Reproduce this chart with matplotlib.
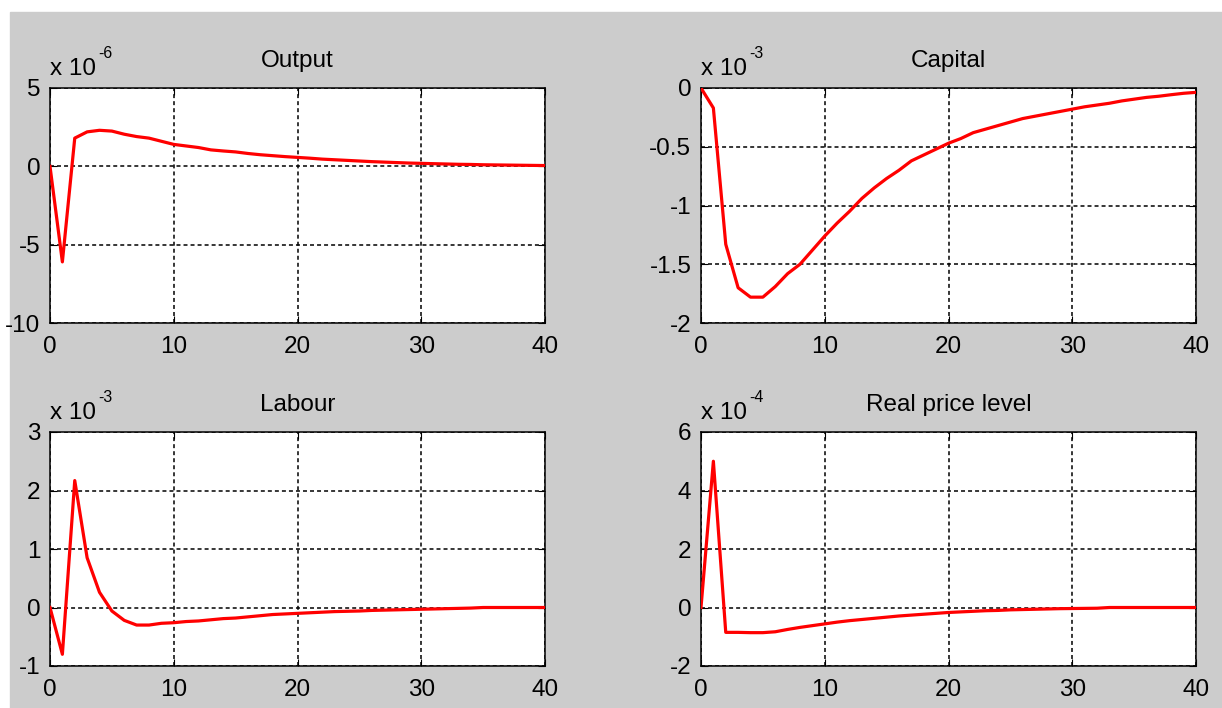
import matplotlib
matplotlib.use("Agg")
import matplotlib.pyplot as plt
from matplotlib.patches import Rectangle
from matplotlib.ticker import FuncFormatter

plt.rcParams["font.family"] = ["Liberation Sans", "DejaVu Sans"]

periods = list(range(41))

# impulse responses, in units of the panel's multiplier
output = [0, -6.1, 1.8, 2.2, 2.3, 2.25, 2.05, 1.9, 1.8, 1.6, 1.4, 1.3, 1.2,
          1.05, 0.98, 0.92, 0.82, 0.74, 0.68, 0.62, 0.57, 0.52, 0.46, 0.42,
          0.38, 0.34, 0.3, 0.27, 0.24, 0.21, 0.19, 0.17, 0.15, 0.13, 0.12,
          0.1, 0.09, 0.08, 0.07, 0.06, 0.05]
capital = [0, -0.17, -1.33, -1.70, -1.78, -1.78, -1.69, -1.58, -1.5, -1.38,
           -1.26, -1.15, -1.05, -0.94, -0.85, -0.77, -0.70, -0.62, -0.57,
           -0.52, -0.47, -0.43, -0.38, -0.35, -0.32, -0.29, -0.26, -0.24,
           -0.22, -0.2, -0.18, -0.16, -0.145, -0.13, -0.11, -0.095, -0.08,
           -0.07, -0.057, -0.045, -0.037]
labour = [0, -0.8, 2.17, 0.85, 0.26, -0.06, -0.22, -0.3, -0.3, -0.27, -0.26,
          -0.24, -0.23, -0.21, -0.19, -0.18, -0.16, -0.14, -0.12, -0.11,
          -0.1, -0.09, -0.08, -0.07, -0.065, -0.06, -0.05, -0.045, -0.04,
          -0.035, -0.03, -0.025, -0.02, -0.015, -0.01, 0.0, 0.0, 0.0, 0.0,
          0.0, 0.0]
price = [0, 5.0, -0.85, -0.85, -0.86, -0.86, -0.83, -0.75, -0.68, -0.62,
         -0.56, -0.5, -0.45, -0.41, -0.37, -0.33, -0.29, -0.26, -0.23, -0.2,
         -0.17, -0.15, -0.13, -0.11, -0.1, -0.08, -0.07, -0.06, -0.05, -0.04,
         -0.035, -0.03, -0.025, 0.0, 0.0, 0.0, 0.0, 0.0, 0.0, 0.0, 0.0]

titles = ["Output", "Capital", "Labour", "Real price level"]
series = [output, capital, labour, price]
exponents = ["-6", "-3", "-3", "-4"]
ylims = [(-10, 5), (-2, 0), (-1, 3), (-2, 6)]
yticks = [[-10, -5, 0, 5], [-2, -1.5, -1, -0.5, 0], [-1, 0, 1, 2, 3],
          [-2, 0, 2, 4, 6]]
xticks = [0, 10, 20, 30, 40]

W, H = 1222, 708
fig = plt.figure(figsize=(W / 100, H / 100), dpi=100, facecolor="white")
fig.patches.append(Rectangle((10 / W, 0), 1 - 10 / W, 1 - 12 / H,
                             transform=fig.transFigure, color="#cccccc",
                             zorder=-10))

# axes boxes in pixels: left, top, right, bottom
boxes = [(50, 88, 545, 323), (701, 88, 1196, 323),
         (50, 432, 545, 666), (701, 432, 1196, 666)]

fmt = FuncFormatter(lambda v, p: "%g" % v)

for box, title, ys, ex, yl, yt in zip(boxes, titles, series, exponents,
                                      ylims, yticks):
    l, t, r, b = box
    ax = fig.add_axes([l / W, 1 - b / H, (r - l) / W, (b - t) / H])
    ax.set_facecolor("white")
    ax.plot(periods, ys, color="red", linewidth=2.3, zorder=3)
    ax.set_xlim(0, 40)
    ax.set_ylim(*yl)
    ax.set_xticks(xticks)
    ax.set_yticks(yt)
    ax.yaxis.set_major_formatter(fmt)
    ax.grid(True, color="black", linestyle=(0, (2.6, 2.0)), linewidth=1.1)
    ax.tick_params(direction="in", length=5, width=0.8, top=True, right=True,
                   labelsize=17.5, colors="black")
    ax.tick_params(axis="y", pad=7)
    ax.tick_params(axis="x", pad=9)
    for s in ax.spines.values():
        s.set_linewidth(1.1)
    ax.set_title(title, fontsize=17.5, pad=15)
    # MATLAB-style exponent label above the axes
    ax.annotate("x 10", xy=(0, 1), xycoords="axes fraction",
                xytext=(0, 9.4), textcoords="offset points",
                ha="left", va="baseline", fontsize=17.5)
    ax.annotate(ex, xy=(0, 1), xycoords="axes fraction",
                xytext=(34.5, 21.4), textcoords="offset points",
                ha="left", va="baseline", fontsize=11.5)

fig.savefig("out.png", dpi=100, facecolor=fig.get_facecolor())
